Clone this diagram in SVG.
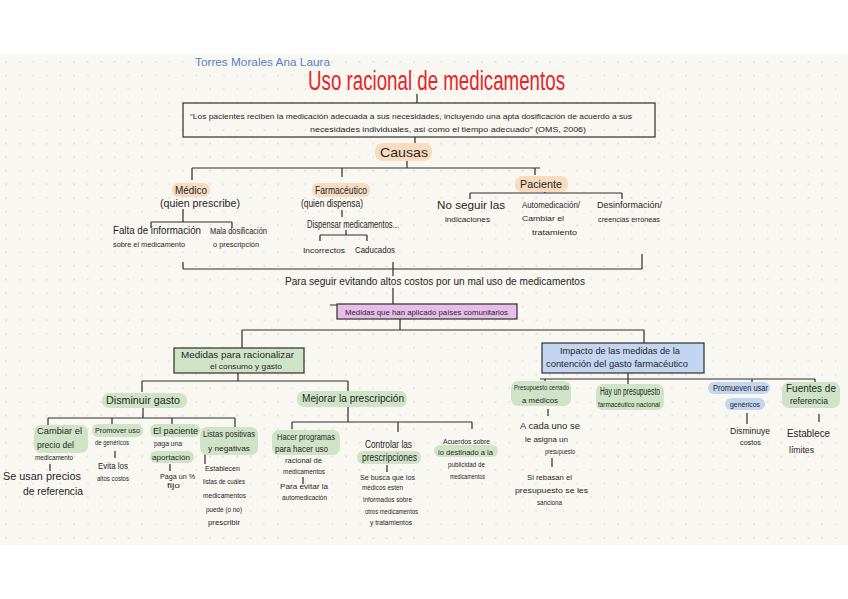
<svg xmlns="http://www.w3.org/2000/svg" width="848" height="599" viewBox="0 0 848 599">
<defs>
<pattern id="dots" x="4" y="60" width="13.6" height="13.6" patternUnits="userSpaceOnUse">
<circle cx="2" cy="2" r="0.7" fill="#c9c7c2"/>
</pattern>
<style>
text{font-family:"Liberation Sans","DejaVu Sans",sans-serif;fill:#262626;font-size:9px}
.s{font-size:8px}
.xs{font-size:7.5px}
.m{font-size:10px}
.l{font-size:11px}
.ln{fill:none;stroke:#2e2e2e;stroke-width:1.2}
.or{fill:#f8dcc0}
.gr{fill:#cfe4c6}
.bl{fill:#c3d5f1}
</style>
</defs>
<rect width="848" height="599" fill="#ffffff"/>
<rect x="0" y="54" width="848" height="491" fill="#f9f7f2"/>
<rect x="0" y="54" width="848" height="491" fill="url(#dots)"/>

<g id="connectors" class="ln">
<path d="M417 94V103M415 137V144"/>
<path d="M407 161V168M192 168H540M192 168V180M342 168V177M535 168V175"/>
<path d="M183 209V222M151 222H232M151 222V228M232 222V228"/>
<path d="M342 210V217M346 230V235M320 235H367M320 235V241M367 235V241"/>
<path d="M545 190V193M470 193H622M470 193V199M622 193V199"/>
<path d="M183 269H642M183 262V269M642 254V269M393 262V276M393 288V304M330 305H337"/>
<path d="M400 319V330M242 330H644M242 330V348M644 330V343"/>
<path d="M238 373V381M142 381H348M142 381V392M348 381V392"/>
<path d="M143 408V418M48 418H235M48 418V427M112 418V426M172 418V426M235 418V427"/>
<path d="M50 464V471M115 451V458M170 464V471M205 454V464"/>
<path d="M348 407V422M292 422H472M292 422V429M398 422V432M472 422V429"/>
<path d="M303 477V484M387 465V472"/>
<path d="M628 373V384M540 379H815M545 379V383M752 379V385M815 379V385"/>
<path d="M548 409V416M552 458V467M747 413V424M819 414V422"/>
</g>

<g id="author"><text x="195" y="66" class="m" style="fill:#5a7fc8" textLength="135" lengthAdjust="spacingAndGlyphs">Torres Morales Ana Laura</text></g>
<g id="title"><text x="308" y="90" style="font-size:27px;fill:#e2262b" textLength="257" lengthAdjust="spacingAndGlyphs">Uso racional de medicamentos</text></g>

<g id="quote">
<rect x="183" y="103" width="472" height="34" fill="none" stroke="#2e2e2e" stroke-width="1.2"/>
<text x="190" y="119" class="s" textLength="442" lengthAdjust="spacingAndGlyphs">“Los pacientes reciben la medicación adecuada a sus necesidades, incluyendo una apta dosificación de acuerdo a sus</text>
<text x="310" y="132" class="s" textLength="276" lengthAdjust="spacingAndGlyphs">necesidades individuales, así como el tiempo adecuado” (OMS, 2006)</text>
</g>

<g id="causas"><rect x="375" y="143" width="57" height="18" rx="8" class="or"/><text x="380" y="157" style="font-size:13px" textLength="48" lengthAdjust="spacingAndGlyphs">Causas</text></g>

<g id="medico">
<rect x="172" y="183" width="38" height="14" rx="6" class="or"/>
<text x="175" y="194" class="m" textLength="32" lengthAdjust="spacingAndGlyphs">Médico</text>
<text x="160" y="207" class="m" textLength="80" lengthAdjust="spacingAndGlyphs">(quien prescribe)</text>
</g>
<g id="falta">
<text x="113" y="234" class="m" textLength="88" lengthAdjust="spacingAndGlyphs">Falta de información</text>
<text x="113" y="247" class="s" textLength="72" lengthAdjust="spacingAndGlyphs">sobre el medicamento</text>
</g>
<g id="mala">
<text x="210" y="234" textLength="57" lengthAdjust="spacingAndGlyphs">Mala dosificación</text>
<text x="213" y="247" class="s" textLength="46" lengthAdjust="spacingAndGlyphs">o prescripción</text>
</g>

<g id="farmaceutico">
<rect x="312" y="183" width="58" height="14" rx="6" class="or"/>
<text x="315" y="194" class="m" textLength="52" lengthAdjust="spacingAndGlyphs">Farmacéutico</text>
<text x="301" y="207" class="m" textLength="62" lengthAdjust="spacingAndGlyphs">(quien dispensa)</text>
</g>
<g id="dispensar"><text x="307" y="228" class="m" textLength="92" lengthAdjust="spacingAndGlyphs">Dispensar medicamentos...</text></g>
<g id="incorrectos"><text x="303" y="253" class="s" textLength="42" lengthAdjust="spacingAndGlyphs">Incorrectos</text></g>
<g id="caducados"><text x="355" y="253" textLength="40" lengthAdjust="spacingAndGlyphs">Caducados</text></g>

<g id="paciente">
<rect x="515" y="176" width="53" height="16" rx="7" class="or"/>
<text x="520" y="188" class="l" textLength="42" lengthAdjust="spacingAndGlyphs">Paciente</text>
</g>
<g id="noseguir">
<text x="437" y="209" class="m" textLength="68" lengthAdjust="spacingAndGlyphs">No seguir las</text>
<text x="445" y="222" class="s" textLength="45" lengthAdjust="spacingAndGlyphs">indicaciones</text>
</g>
<g id="automedicacion">
<text x="522" y="208" textLength="58" lengthAdjust="spacingAndGlyphs">Automedicación/</text>
<text x="522" y="221" class="s" textLength="42" lengthAdjust="spacingAndGlyphs">Cambiar el</text>
<text x="532" y="235" class="xs" textLength="45" lengthAdjust="spacingAndGlyphs">tratamiento</text>
</g>
<g id="desinformacion">
<text x="597" y="208" textLength="65" lengthAdjust="spacingAndGlyphs">Desinformación/</text>
<text x="598" y="222" class="xs" textLength="62" lengthAdjust="spacingAndGlyphs">creencias erróneas</text>
</g>

<g id="costos"><text x="285" y="285" class="m" textLength="300" lengthAdjust="spacingAndGlyphs">Para seguir evitando altos costos por un mal uso de medicamentos</text></g>

<g id="medidas-paises">
<rect x="337" y="304" width="180" height="15" fill="#e7bdea" stroke="#2e2e2e" stroke-width="1.2"/>
<text x="345" y="315" class="s" textLength="163" lengthAdjust="spacingAndGlyphs">Medidas que han aplicado países comunitarios</text>
</g>

<g id="racionalizar">
<rect x="174" y="348" width="130" height="25" class="gr" stroke="#2e2e2e" stroke-width="1.2"/>
<text x="181" y="358" textLength="113" lengthAdjust="spacingAndGlyphs">Medidas para racionalizar</text>
<text x="210" y="369" class="s" textLength="72" lengthAdjust="spacingAndGlyphs">el consumo y gasto</text>
</g>

<g id="disminuir">
<rect x="102" y="393" width="85" height="15" rx="7" class="gr"/>
<text x="106" y="404" class="m" textLength="74" lengthAdjust="spacingAndGlyphs">Disminuir gasto</text>
</g>
<g id="mejorar">
<rect x="297" y="391" width="110" height="16" rx="7" class="gr"/>
<text x="302" y="402" class="m" textLength="102" lengthAdjust="spacingAndGlyphs">Mejorar la prescripción</text>
</g>

<g id="cambiar">
<rect x="34" y="425" width="54" height="28" rx="7" class="gr"/>
<text x="37" y="434" textLength="45" lengthAdjust="spacingAndGlyphs">Cambiar el</text>
<text x="37" y="448" textLength="37" lengthAdjust="spacingAndGlyphs">precio del</text>
<text x="35" y="460" class="xs" textLength="38" lengthAdjust="spacingAndGlyphs">medicamento</text>
<text x="3" y="480" class="m" textLength="78" lengthAdjust="spacingAndGlyphs">Se usan precios</text>
<text x="23" y="495" class="m" textLength="60" lengthAdjust="spacingAndGlyphs">de referencia</text>
</g>
<g id="promover">
<rect x="92" y="424" width="51" height="13" rx="6" class="gr"/>
<text x="95" y="433" class="s" textLength="45" lengthAdjust="spacingAndGlyphs">Promover uso</text>
<text x="95" y="445" class="s" textLength="34" lengthAdjust="spacingAndGlyphs">de genéricos</text>
<text x="98" y="469" textLength="30" lengthAdjust="spacingAndGlyphs">Evita los</text>
<text x="97" y="481" class="s" textLength="32" lengthAdjust="spacingAndGlyphs">altos costos</text>
</g>
<g id="aportacion">
<rect x="150" y="424" width="50" height="13" rx="6" class="gr"/>
<rect x="150" y="451" width="44" height="12" rx="6" class="gr"/>
<text x="153" y="434" textLength="45" lengthAdjust="spacingAndGlyphs">El paciente</text>
<text x="154" y="446" class="s" textLength="28" lengthAdjust="spacingAndGlyphs">paga una</text>
<text x="152" y="460" class="s" textLength="38" lengthAdjust="spacingAndGlyphs">aportación</text>
<text x="160" y="479" class="s" textLength="35" lengthAdjust="spacingAndGlyphs">Paga un %</text>
<text x="167" y="488" class="s" textLength="13" lengthAdjust="spacingAndGlyphs">fijo</text>
</g>
<g id="listas">
<rect x="200" y="427" width="58" height="28" rx="7" class="gr"/>
<text x="203" y="437" textLength="52" lengthAdjust="spacingAndGlyphs">Listas positivas</text>
<text x="208" y="451" class="s" textLength="42" lengthAdjust="spacingAndGlyphs">y negativas</text>
<text x="205" y="471" class="s" textLength="35" lengthAdjust="spacingAndGlyphs">Establecen</text>
<text x="203" y="484" class="s" textLength="42" lengthAdjust="spacingAndGlyphs">listas de cuáles</text>
<text x="203" y="498" class="s" textLength="43" lengthAdjust="spacingAndGlyphs">medicamentos</text>
<text x="206" y="512" class="s" textLength="36" lengthAdjust="spacingAndGlyphs">puede (o no)</text>
<text x="208" y="525" class="s" textLength="32" lengthAdjust="spacingAndGlyphs">prescribir</text>
</g>

<g id="programas">
<rect x="272" y="430" width="68" height="25" rx="7" class="gr"/>
<text x="277" y="440" textLength="58" lengthAdjust="spacingAndGlyphs">Hacer programas</text>
<text x="275" y="452" textLength="53" lengthAdjust="spacingAndGlyphs">para hacer uso</text>
<text x="285" y="463" class="s" textLength="37" lengthAdjust="spacingAndGlyphs">racional de</text>
<text x="283" y="474" class="s" textLength="42" lengthAdjust="spacingAndGlyphs">medicamentos</text>
<text x="280" y="489" class="s" textLength="48" lengthAdjust="spacingAndGlyphs">Para evitar la</text>
<text x="282" y="500" class="s" textLength="45" lengthAdjust="spacingAndGlyphs">automedicación</text>
</g>
<g id="controlar">
<rect x="357" y="451" width="64" height="13" rx="6" class="gr"/>
<text x="365" y="448" class="m" textLength="47" lengthAdjust="spacingAndGlyphs">Controlar las</text>
<text x="362" y="461" class="m" textLength="55" lengthAdjust="spacingAndGlyphs">prescripciones</text>
<text x="360" y="480" class="s" textLength="55" lengthAdjust="spacingAndGlyphs">Se busca que los</text>
<text x="362" y="490" class="s" textLength="41" lengthAdjust="spacingAndGlyphs">médicos estén</text>
<text x="363" y="502" class="s" textLength="49" lengthAdjust="spacingAndGlyphs">informados sobre</text>
<text x="365" y="514" class="s" textLength="53" lengthAdjust="spacingAndGlyphs">otros medicamentos</text>
<text x="370" y="525" class="s" textLength="42" lengthAdjust="spacingAndGlyphs">y tratamientos</text>
</g>
<g id="acuerdos">
<rect x="434" y="445" width="64" height="12" rx="6" class="gr"/>
<text x="443" y="444" class="s" textLength="47" lengthAdjust="spacingAndGlyphs">Acuerdos sobre</text>
<text x="438" y="455" class="s" textLength="55" lengthAdjust="spacingAndGlyphs">lo destinado a la</text>
<text x="448" y="467" class="s" textLength="37" lengthAdjust="spacingAndGlyphs">publicidad de</text>
<text x="450" y="479" class="xs" textLength="35" lengthAdjust="spacingAndGlyphs">medicamentos</text>
</g>

<g id="impacto">
<rect x="542" y="343" width="162" height="30" class="bl" stroke="#2e2e2e" stroke-width="1.2"/>
<text x="560" y="354" textLength="120" lengthAdjust="spacingAndGlyphs">Impacto de las medidas de la</text>
<text x="546" y="367" textLength="142" lengthAdjust="spacingAndGlyphs">contención del gasto farmacéutico</text>
</g>

<g id="presupuesto-cerrado">
<rect x="511" y="381" width="60" height="25" rx="7" class="gr"/>
<text x="514" y="390" class="s" textLength="55" lengthAdjust="spacingAndGlyphs">Presupuesto cerrado</text>
<text x="522" y="403" class="s" textLength="36" lengthAdjust="spacingAndGlyphs">a médicos</text>
<text x="520" y="429" textLength="60" lengthAdjust="spacingAndGlyphs">A cada uno se</text>
<text x="525" y="442" class="s" textLength="43" lengthAdjust="spacingAndGlyphs">le asigna un</text>
<text x="545" y="454" class="s" textLength="30" lengthAdjust="spacingAndGlyphs">presupuesto</text>
<text x="527" y="480" class="s" textLength="45" lengthAdjust="spacingAndGlyphs">Si rebasan el</text>
<text x="515" y="493" class="s" textLength="73" lengthAdjust="spacingAndGlyphs">presupuesto se les</text>
<text x="537" y="505" class="s" textLength="25" lengthAdjust="spacingAndGlyphs">sanciona</text>
</g>
<g id="presupuesto-nacional">
<rect x="596" y="384" width="68" height="26" rx="7" class="gr"/>
<text x="600" y="395" class="m" textLength="60" lengthAdjust="spacingAndGlyphs">Hay un presupuesto</text>
<text x="598" y="407" class="s" textLength="62" lengthAdjust="spacingAndGlyphs">farmacéutico nacional</text>
</g>
<g id="genericos">
<rect x="708" y="382" width="62" height="12" rx="6" class="bl"/>
<rect x="725" y="398" width="40" height="12" rx="6" class="bl"/>
<text x="713" y="391" textLength="55" lengthAdjust="spacingAndGlyphs">Promueven usar</text>
<text x="730" y="407" class="s" textLength="30" lengthAdjust="spacingAndGlyphs">genéricos</text>
<text x="730" y="434" textLength="40" lengthAdjust="spacingAndGlyphs">Disminuye</text>
<text x="740" y="445" class="s" textLength="21" lengthAdjust="spacingAndGlyphs">costos</text>
</g>
<g id="fuentes">
<rect x="782" y="382" width="58" height="26" rx="7" class="gr"/>
<text x="786" y="392" class="m" textLength="50" lengthAdjust="spacingAndGlyphs">Fuentes de</text>
<text x="790" y="404" textLength="38" lengthAdjust="spacingAndGlyphs">referencia</text>
<text x="787" y="437" class="m" textLength="43" lengthAdjust="spacingAndGlyphs">Establece</text>
<text x="789" y="453" textLength="25" lengthAdjust="spacingAndGlyphs">límites</text>
</g>
</svg>
